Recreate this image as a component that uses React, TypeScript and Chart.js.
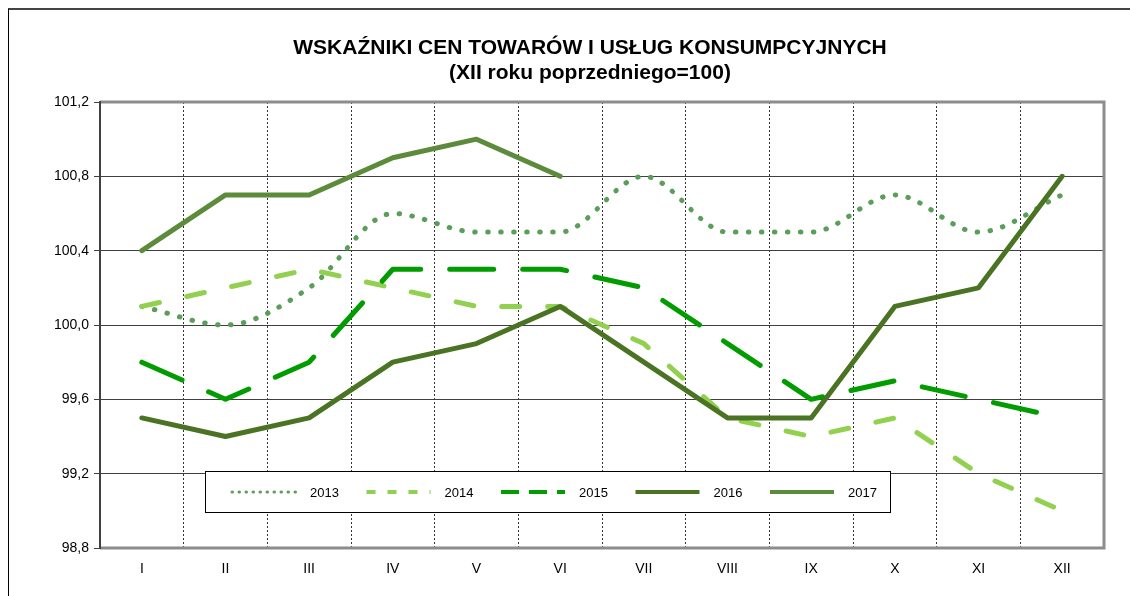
import React, { useEffect, useRef } from 'react';
import { Chart, registerables } from 'chart.js';

Chart.register(...registerables);

// ---- data ----
const MONTHS = ['I', 'II', 'III', 'IV', 'V', 'VI', 'VII', 'VIII', 'IX', 'X', 'XI', 'XII'];
const YEARS = ['2013', '2014', '2015', '2016', '2017'];
const V2013 = [100.1, 100.0, 100.2, 100.6, 100.5, 100.5, 100.8, 100.5, 100.5, 100.7, 100.5, 100.7];
const V2014 = [100.1, 100.2, 100.3, 100.2, 100.1, 100.1, 99.9, 99.5, 99.4, 99.5, 99.2, 99.0];
const V2015 = [99.8, 99.6, 99.8, 100.3, 100.3, 100.3, 100.2, 99.9, 99.6, 99.7, 99.6, 99.5];
const V2016 = [99.5, 99.4, 99.5, 99.8, 99.9, 100.1, 99.8, 99.5, 99.5, 100.1, 100.2, 100.8];
const V2017 = [100.4, 100.7, 100.7, 100.9, 101.0, 100.8];
const Y_MIN = 98.8;
const Y_MAX = 101.2;
const Y_STEP = 0.4;
const TITLE_LINES = ['WSKAŹNIKI CEN TOWARÓW I USŁUG KONSUMPCYJNYCH', '(XII roku poprzedniego=100)'];

const FONT = "'Liberation Sans', Arial, sans-serif";

// ---- styles ----
const STYLES = [
  { color: '#5a9e5a', dash: [0.5, 12.5], cap: 'round', smooth: true, legendDash: [0.5, 6.5], legendCap: 'round', legendWidth: 3 },
  { color: '#92d050', dash: [18, 28], cap: 'round', smooth: false, legendDash: [9, 12], legendCap: 'butt', legendWidth: 4 },
  { color: '#009c00', dash: [44, 29], cap: 'round', smooth: false, legendDash: [18, 10], legendCap: 'butt', legendWidth: 4 },
  { color: '#4a7423', dash: [], cap: 'round', smooth: false, legendDash: [], legendCap: 'butt', legendWidth: 4 },
  { color: '#5b8b3b', dash: [], cap: 'round', smooth: false, legendDash: [], legendCap: 'butt', legendWidth: 4 },
];

const VALUES = [V2013, V2014, V2015, V2016, V2017];

const framePlugin = {
  id: 'frame',
  beforeDatasetsDraw(chart: any) {
    const { ctx, chartArea: a } = chart;
    ctx.save();
    ctx.strokeStyle = '#8c8c8c';
    ctx.lineWidth = 3;
    ctx.beginPath();
    ctx.moveTo(a.left, a.top);
    ctx.lineTo(a.right, a.top);
    ctx.lineTo(a.right, a.bottom);
    ctx.lineTo(a.left, a.bottom);
    ctx.stroke();
    ctx.strokeStyle = '#404040';
    ctx.lineWidth = 2;
    ctx.beginPath();
    ctx.moveTo(a.left, a.top - 1);
    ctx.lineTo(a.left, a.bottom + 1);
    ctx.stroke();
    ctx.restore();
  },
};

const legendPlugin = {
  id: 'boxLegend',
  afterDatasetsDraw(chart: any) {
    const { ctx, chartArea: a } = chart;
    const bx = a.left + 105;
    const by = a.top + 369;
    const bw = 685;
    const bh = 41;
    ctx.save();
    ctx.fillStyle = '#ffffff';
    ctx.fillRect(bx, by, bw, bh);
    ctx.strokeStyle = '#000000';
    ctx.lineWidth = 1;
    ctx.strokeRect(bx + 0.5, by + 0.5, bw, bh);
    chart.data.datasets.forEach((ds: any, i: number) => {
      const x0 = bx + 27 + i * 134.5;
      const cy = by + 21;
      ctx.save();
      ctx.strokeStyle = ds.borderColor;
      ctx.lineWidth = ds.legendWidth;
      ctx.lineCap = ds.legendCap;
      ctx.setLineDash(ds.legendDash);
      ctx.beginPath();
      ctx.moveTo(x0, cy);
      ctx.lineTo(x0 + 64, cy);
      ctx.stroke();
      ctx.restore();
      ctx.fillStyle = '#000000';
      ctx.font = `13px ${FONT}`;
      ctx.textBaseline = 'middle';
      ctx.textAlign = 'left';
      ctx.fillText(ds.label, x0 + 78, cy + 1);
    });
    ctx.restore();
  },
};

const titlePlugin = {
  id: 'twoLineTitle',
  afterDraw(chart: any) {
    const { ctx, chartArea: a } = chart;
    const cx = (a.left + a.right) / 2 - 12;
    ctx.save();
    ctx.fillStyle = '#000000';
    ctx.font = `bold 21px ${FONT}`;
    ctx.textAlign = 'center';
    ctx.textBaseline = 'middle';
    ctx.fillText(TITLE_LINES[0], cx, 38);
    ctx.fillText(TITLE_LINES[1], cx, 63);
    ctx.restore();
  },
};

export default function App() {
  const ref = useRef<HTMLCanvasElement | null>(null);

  useEffect(() => {
    if (!ref.current) return;
    const datasets = YEARS.map((y, i) => ({
      label: y,
      data: VALUES[i],
      borderColor: STYLES[i].color,
      backgroundColor: STYLES[i].color,
      borderWidth: 5,
      borderDash: STYLES[i].dash,
      borderCapStyle: STYLES[i].cap,
      borderJoinStyle: 'round',
      cubicInterpolationMode: STYLES[i].smooth ? 'monotone' : 'default',
      tension: STYLES[i].smooth ? 0.4 : 0,
      pointRadius: 0,
      fill: false,
      order: YEARS.length - i,
      legendDash: STYLES[i].legendDash,
      legendCap: STYLES[i].legendCap,
      legendWidth: STYLES[i].legendWidth,
    }));
    const chart = new Chart(ref.current, {
      type: 'line',
      data: { labels: MONTHS, datasets: datasets as any },
      options: {
        animation: false,
        responsive: false,
        devicePixelRatio: 1,
        layout: { padding: { top: 92, right: 26, bottom: 0, left: 0 } },
        plugins: {
          legend: { display: false },
          title: { display: false },
          tooltip: { enabled: false },
        },
        scales: {
          x: {
            type: 'category',
            offset: true,
            grid: { offset: true, color: '#333333', lineWidth: 1, drawTicks: false },
            border: { display: false, dash: [2, 2] },
            ticks: { color: '#000000', font: { family: FONT, size: 14 }, padding: 13, maxRotation: 0 },
            afterFit: (s: any) => { s.height = 48; },
          },
          y: {
            min: Y_MIN,
            max: Y_MAX,
            grid: { color: '#404040', lineWidth: 1, drawTicks: true, tickLength: 6, tickColor: '#404040' },
            border: { display: false },
            ticks: {
              stepSize: Y_STEP,
              color: '#000000',
              font: { family: FONT, size: 14 },
              padding: 5,
              callback: (v: any) => Number(v).toFixed(1).replace('.', ','),
            },
            afterFit: (s: any) => { s.width = 91; },
          },
        },
      },
      plugins: [framePlugin, legendPlugin, titlePlugin],
    });
    return () => chart.destroy();
  }, []);

  return (
    <div
      style={{
        position: 'absolute',
        left: 8,
        top: 8,
        width: 1122,
        height: 588,
        boxSizing: 'border-box',
        borderTop: '2px solid #444444',
        borderLeft: '1px solid #000000',
        background: '#ffffff',
      }}
    >
      <canvas ref={ref} width={1121} height={586} style={{ display: 'block' }} />
    </div>
  );
}
